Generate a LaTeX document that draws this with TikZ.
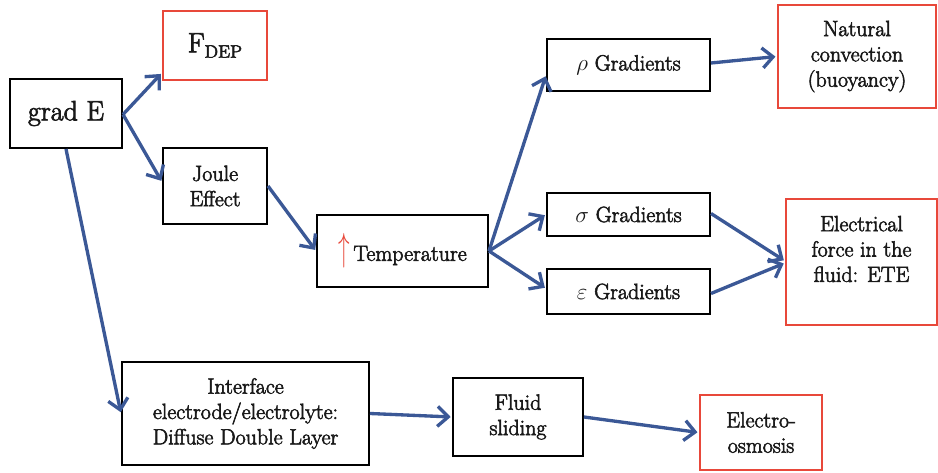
\documentclass[tikz,border=0pt]{standalone}
\usepackage{fontspec}
\setmainfont{Latin Modern Roman}[BoldFont={Latin Modern Roman},BoldFeatures={FakeBold=2.6}]
\usetikzlibrary{arrows.meta,calc}
\definecolor{arrblue}{RGB}{59,88,150}
\definecolor{boxred}{RGB}{232,72,58}
\definecolor{txtgray}{RGB}{25,25,25}
\begin{document}
\begin{tikzpicture}[x=0.75pt,y=-0.75pt,
  every node/.style={font=\fontsize{16.5}{19}\selectfont\bfseries, text=txtgray, align=center, inner sep=0pt},
  bigtxt/.style={font=\fontsize{21}{24}\selectfont\bfseries},
  bbox/.style={draw=black, line width=1.5pt, fill=white},
  rbox/.style={draw=boxred, line width=1.8pt, fill=white},
  flow/.style={draw=arrblue, line width=2.5pt, -{Straight Barb[length=8pt,width=15pt,line width=2.5pt]}, shorten >=1pt}]
\useasboundingbox (0,0) rectangle (938,473);
% boxes
\node[bbox, minimum width=84pt, minimum height=51.75pt, bigtxt] (grad) at (66,113.5) {grad E};
\node[rbox, minimum width=78pt, minimum height=51.75pt, bigtxt] (fdep) at (215,45.5) {F\raisebox{-0.45ex}{\fontsize{13.5}{14}\selectfont\bfseries DEP}};
\node[bbox, minimum width=78pt, minimum height=57pt] (joule) at (215,186) {Joule\\Effect};
\node[bbox, minimum width=128.25pt, minimum height=54pt] (temp) at (402.5,251) {\textcolor{boxred}{\scalebox{1}[1.7]{$\uparrow$}}\,Temperature};
\node[bbox, minimum width=122.25pt, minimum height=39pt] (rho) at (628.5,65) {$\rho$ Gradients};
\node[rbox, minimum width=118.5pt, minimum height=77.25pt] (nat) at (857,56.5) {Natural\\convection\\(buoyancy)};
\node[bbox, minimum width=122.25pt, minimum height=32.25pt] (sig) at (628.5,214.5) {$\sigma$ Gradients};
\node[bbox, minimum width=122.25pt, minimum height=33.75pt] (eps) at (628.5,291.5) {$\varepsilon$ Gradients};
\node[rbox, minimum width=113pt, minimum height=94.5pt] (elec) at (861.5,262) {};
\node (electxt) at (861.5,249) {Electrical\\force in the\\fluid: ETE};
\node[bbox, minimum width=185.25pt, minimum height=77.25pt] (intf) at (245.5,413.5) {Interface\\electrode/electrolyte:\\Diffuse Double Layer};
\node[bbox, minimum width=97.5pt, minimum height=58.5pt] (fluid) at (518,417) {Fluid\\sliding};
\node[rbox, minimum width=91.5pt, minimum height=56.25pt] (eo) at (761,432.5) {Electro-\\osmosis};
% connectors
\draw[flow] ($(grad.east)+(0,1)$) -- ($(fdep.west)!0.77!(fdep.south west)$);
\draw[flow] ($(grad.east)+(0,1)$) -- ($(joule.west)+(0,-4)$);
\draw[flow] (grad.south) -- (intf.west);
\draw[flow] (joule.east) -- (temp.west);
\draw[flow] (temp.east) -- ($(rho.west)+(0,10)$);
\draw[flow] (temp.east) -- (sig.west);
\draw[flow] (temp.east) -- ($(eps.west)+(0,-3)$);
\draw[flow] ($(rho.east)+(0,-2)$) -- (nat.west);
\draw[flow] ($(sig.east)+(0,-1)$) -- ($(elec.west)+(0,-1)$);
\draw[flow] ($(eps.east)+(0,2)$) -- ($(elec.west)+(0,1)$);
\draw[flow] (intf.east) -- (fluid.west);
\draw[flow] (fluid.east) -- (eo.west);
\end{tikzpicture}
\end{document}
